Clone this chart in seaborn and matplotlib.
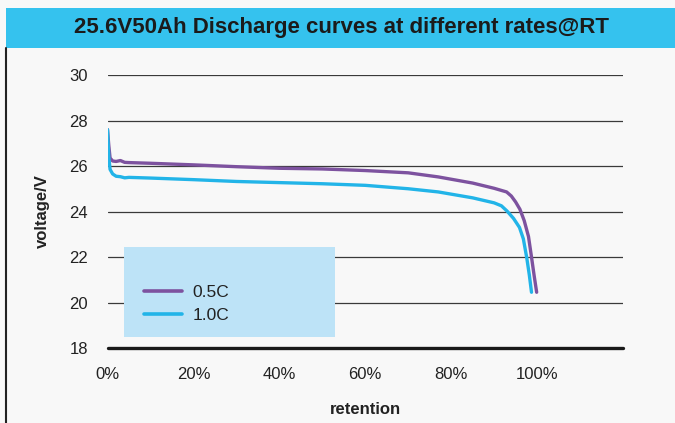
import matplotlib
matplotlib.use("Agg")
import matplotlib.pyplot as plt
import matplotlib.patches as mpatches
from matplotlib.lines import Line2D
import seaborn as sns
import pandas as pd
import numpy as np

# ---- data ----
retention_05 = [0.0, 0.003, 0.006, 0.012, 0.02, 0.03, 0.04, 0.05, 0.10, 0.20, 0.30, 0.40, 0.50,
                0.60, 0.70, 0.77, 0.85, 0.90, 0.929, 0.94, 0.95, 0.96, 0.97, 0.98, 0.987, 0.993, 0.999]
voltage_05 = [27.6, 26.9, 26.35, 26.22, 26.2, 26.24, 26.16, 26.15, 26.12, 26.05, 25.97, 25.9, 25.87,
              25.8, 25.7, 25.52, 25.25, 25.02, 24.86, 24.68, 24.42, 24.1, 23.6, 22.9, 22.0, 21.2, 20.45]
retention_10 = [0.0, 0.003, 0.006, 0.012, 0.02, 0.03, 0.04, 0.05, 0.10, 0.20, 0.30, 0.40, 0.50,
                0.60, 0.70, 0.77, 0.85, 0.90, 0.917, 0.93, 0.945, 0.959, 0.968, 0.976, 0.982, 0.987]
voltage_10 = [27.6, 26.4, 25.85, 25.65, 25.55, 25.53, 25.48, 25.5, 25.47, 25.4, 25.32, 25.27, 25.22,
              25.15, 25.0, 24.86, 24.6, 24.38, 24.25, 24.02, 23.7, 23.3, 22.8, 21.96, 21.2, 20.45]
series_labels = ["0.5C", "1.0C"]
x_ticks = [0.0, 0.2, 0.4, 0.6, 0.8, 1.0]
x_ticklabels = ["0%", "20%", "40%", "60%", "80%", "100%"]
y_ticks = [18, 20, 22, 24, 26, 28, 30]

df = pd.concat([
    pd.DataFrame({"retention": retention_05, "voltage": voltage_05, "rate": series_labels[0]}),
    pd.DataFrame({"retention": retention_10, "voltage": voltage_10, "rate": series_labels[1]}),
])

sns.set_style("white")
plt.rcParams["font.family"] = ["Liberation Sans", "DejaVu Sans"]

BG = "#F8F8F8"
fig = plt.figure(figsize=(6.75, 4.23), dpi=100, facecolor=BG)
ax = fig.add_axes([107.5 / 675, 75 / 423, 515.5 / 675, 273 / 423])
ax.set_facecolor(BG)

palette = {"0.5C": "#7D529F", "1.0C": "#22B4E8"}
sns.lineplot(data=df, x="retention", y="voltage", hue="rate", palette=palette,
             sort=False, estimator=None, linewidth=2.4, ax=ax, legend=False, zorder=3)

ax.set_xlim(0, 1.2)
ax.set_ylim(18, 30)
ax.set_xticks(x_ticks)
ax.set_xticklabels(x_ticklabels)
ax.set_yticks(y_ticks)
for s in ax.spines.values():
    s.set_visible(False)
ax.grid(False)
for yv in y_ticks[1:]:
    ax.axhline(yv, color="#3a3a3a", linewidth=0.9, zorder=1)
ax.axhline(18, color="#1a1a1a", linewidth=2.4, zorder=1, clip_on=False)
ax.tick_params(axis="both", length=0, labelsize=12, colors="#222222")
ax.tick_params(axis="x", pad=14)
ax.tick_params(axis="y", pad=14)

ax.set_xlabel("retention", fontsize=12, fontweight="bold", labelpad=14, color="#222222")
ax.set_ylabel("voltage/V", fontsize=12, fontweight="bold", labelpad=14, color="#222222")

# legend background box
rect = mpatches.Rectangle((0.032, 0.04), 0.409, 0.33, transform=ax.transAxes,
                          facecolor="#BDE3F7", edgecolor="none", zorder=2)
ax.add_patch(rect)
handles = [Line2D([0], [0], color=palette[l], linewidth=2.6) for l in series_labels]
leg = ax.legend(handles, series_labels, loc="upper left", bbox_to_anchor=(0.057, 0.255),
                frameon=False, fontsize=12.5, handlelength=2.2, handletextpad=0.6,
                labelspacing=0.45, borderaxespad=0)
for t in leg.get_texts():
    t.set_color("#222222")
leg.set_zorder(4)

# title bar
fig.patches.append(mpatches.Rectangle((6 / 675, 1 - 48 / 423), 669 / 675, 40 / 423,
                                      transform=fig.transFigure, facecolor="#35C2EE",
                                      edgecolor="none", zorder=0))
fig.text(341 / 675, 1 - 28 / 423, "25.6V50Ah Discharge curves at different rates@RT",
         ha="center", va="center", fontsize=16, fontweight="bold", color="#1b1b1b")
# left border line
fig.lines.append(Line2D([6 / 675, 6 / 675], [0, 1 - 48 / 423], transform=fig.transFigure,
                        color="#222222", linewidth=1.5))

fig.savefig("out.png", dpi=100, facecolor=BG)
